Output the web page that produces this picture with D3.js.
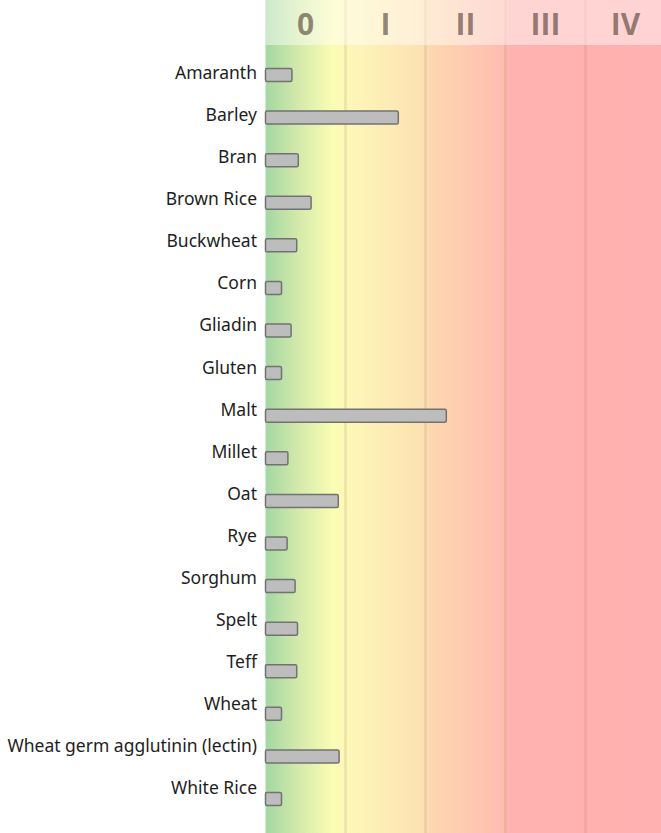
<!DOCTYPE html>
<html>
<head>
<meta charset="utf-8">
<script src="https://cdn.jsdelivr.net/npm/d3@7/dist/d3.min.js"></script>
<style>
  html,body{margin:0;padding:0;background:#fff;}
  svg{display:block;}
</style>
</head>
<body>
<div id="chart"></div>
<script>
// grains, values expressed in allergy-class units (0..5)
const categories = [
  "Amaranth","Barley","Bran","Brown Rice","Buckwheat","Corn","Gliadin","Gluten",
  "Malt","Millet","Oat","Rye","Sorghum","Spelt","Teff","Wheat",
  "Wheat germ agglutinin (lectin)","White Rice"
];
const values = [
  0.33, 1.66, 0.41, 0.57, 0.39, 0.2, 0.32, 0.2,
  2.26, 0.28, 0.91, 0.27, 0.37, 0.4, 0.39, 0.2,
  0.92, 0.2
];
const classLabels = ["0","I","II","III","IV"];

const width = 661, height = 833;

const svg = d3.select("#chart")
  .append("svg")
  .attr("width", width)
  .attr("height", height);

const x = d3.scaleLinear()
  .domain([0, 5])
  .range([265.5, 665.5]);

// labels and bars sit on slightly different row pitches in the original
const yLabel = d3.scalePoint()
  .domain(categories)
  .range([73, 788]);

const yBar = d3.scalePoint()
  .domain(categories)
  .range([75, 799]);

const barH = 13;

// background gradient green -> yellow -> orange -> red
const defs = svg.append("defs");
const grad = defs.append("linearGradient")
  .attr("id", "bg")
  .attr("gradientUnits", "userSpaceOnUse")
  .attr("x1", x(0)).attr("x2", x(5))
  .attr("y1", 0).attr("y2", 0);

[
  [0, "#a3d7a2"],
  [0.08, "#d3e9ab"],
  [0.17, "#fbfdb3"],
  [0.2, "#fdf8b8"],
  [0.4, "#fde0b2"],
  [0.41, "#fdd8b0"],
  [0.6, "#ffbcb0"],
  [0.61, "#ffb2b0"],
  [1, "#ffb0b0"]
].forEach(s => {
  grad.append("stop")
    .attr("offset", s[0])
    .attr("stop-color", s[1]);
});

svg.append("rect")
  .attr("x", x(0))
  .attr("y", 0)
  .attr("width", x(5) - x(0))
  .attr("height", height)
  .attr("fill", "url(#bg)");

// class separators
svg.append("g")
  .selectAll("line")
  .data([1, 2, 3, 4])
  .join("line")
  .attr("x1", d => x(d))
  .attr("x2", d => x(d))
  .attr("y1", 0)
  .attr("y2", height)
  .attr("stroke", "#9a7050")
  .attr("stroke-opacity", 0.14)
  .attr("stroke-width", 3);

// header strip
svg.append("rect")
  .attr("x", x(0))
  .attr("y", 0)
  .attr("width", x(5) - x(0))
  .attr("height", 45)
  .attr("fill", "#fff")
  .attr("opacity", 0.45);

svg.append("g")
  .selectAll("text")
  .data(classLabels)
  .join("text")
  .attr("x", (d, i) => x(i + 0.5))
  .attr("y", 35)
  .attr("text-anchor", "middle")
  .style("font-family", "'Open Sans', 'DejaVu Sans', sans-serif")
  .style("font-weight", 700)
  .style("font-size", "30px")
  .attr("fill", "#4e3a30")
  .attr("fill-opacity", 0.6)
  .text(d => d);

// category labels
svg.append("g")
  .selectAll("text")
  .data(categories)
  .join("text")
  .attr("x", 257)
  .attr("y", d => yLabel(d))
  .attr("dy", "0.35em")
  .attr("text-anchor", "end")
  .style("font-family", "'Noto Sans', 'Open Sans', sans-serif")
  .style("font-size", "17.5px")
  .attr("fill", "#1e1e1e")
  .text(d => d);

// bars
svg.append("g")
  .selectAll("rect")
  .data(categories)
  .join("rect")
  .attr("x", x(0))
  .attr("y", d => yBar(d) - barH / 2)
  .attr("width", (d, i) => x(values[i]) - x(0))
  .attr("height", barH)
  .attr("rx", 1.5)
  .attr("fill", "#bdbdbd")
  .attr("stroke", "#727272")
  .attr("stroke-width", 1.5);
</script>
</body>
</html>
